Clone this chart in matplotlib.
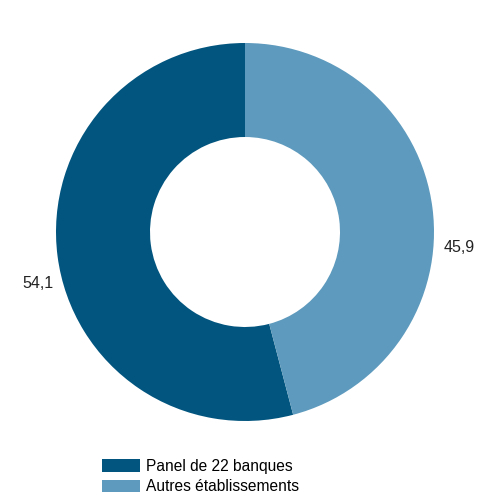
import matplotlib
matplotlib.use("Agg")
import matplotlib.pyplot as plt
from matplotlib.patches import Patch

categories = ["Panel de 22 banques", "Autres établissements"]
values = [54.1, 45.9]
value_labels = ["54,1", "45,9"]
colors = ["#02557f", "#5d9abd"]

plt.rcParams["font.family"] = ["Liberation Sans", "DejaVu Sans"]

W, H = 481, 496
fig = plt.figure(figsize=(W / 100, H / 100), dpi=100)
ax = fig.add_axes([0, 0, 1, 1])

cx, cy = 245, H - 232
R, r = 189, 95
ax.pie(values, colors=colors, startangle=90, counterclock=True,
       center=(cx, cy), radius=R, frame=True,
       wedgeprops=dict(width=R - r, linewidth=0))
ax.set_xlim(0, W)
ax.set_ylim(0, H)
ax.set_aspect("equal")
ax.axis("off")

ax.text(38, H - 283, value_labels[0], ha="center", va="center", fontsize=11.5, color="#222222")
ax.text(459, H - 248, value_labels[1], ha="center", va="center", fontsize=11.5, color="#222222")

handles = [Patch(facecolor=c, edgecolor="none") for c in colors]
fig.legend(handles, categories, loc="upper left", bbox_to_anchor=(102 / W, 1 - 459 / H),
           frameon=False, fontsize=11.2, handlelength=2.45, handleheight=0.85,
           handletextpad=0.38, labelspacing=0.35, borderpad=0, borderaxespad=0)

fig.savefig("out.png", dpi=100)
